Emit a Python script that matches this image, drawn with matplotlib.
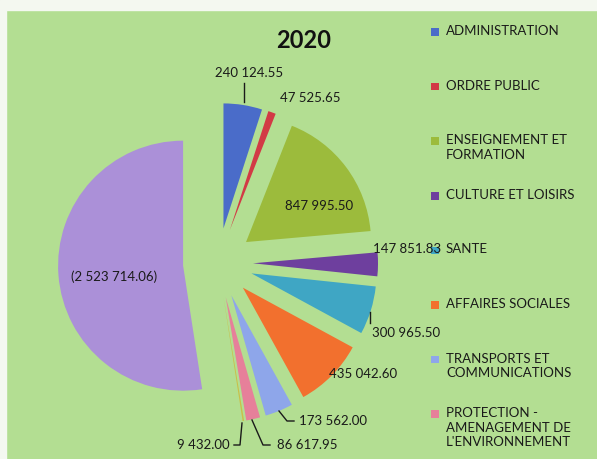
import numpy as np
import matplotlib.pyplot as plt
from matplotlib.patches import Rectangle

plt.rcParams['font.family'] = ['Lato', 'DejaVu Sans']

# > Data
title = '2020'
categories = ['ADMINISTRATION', 'ORDRE PUBLIC', 'ENSEIGNEMENT ET\nFORMATION',
              'CULTURE ET LOISIRS', 'SANTE', 'AFFAIRES SOCIALES',
              'TRANSPORTS ET\nCOMMUNICATIONS',
              'PROTECTION -\nAMENAGEMENT DE\nL\'ENVIRONNEMENT', '', '']
values = [240124.55, 47525.65, 847995.50, 147851.83, 300965.50,
          435042.60, 173562.00, 86617.95, 9432.00, -2523714.06]
colors = ['#4a6cc9', '#d23a45', '#9cbb3c', '#6e3f9e', '#3fa6c4',
          '#f2702e', '#8ea6ea', '#e6809a', '#c9c04a', '#ab90d8']
n_legend = 8


def fmt(v):
    s = f'{abs(v):,.2f}'.replace(',', ' ')
    return f'({s})' if v < 0 else s


W, H = 597, 459
fig = plt.figure(figsize=(W / 100, H / 100), dpi=100)
fig.patch.set_facecolor('#b3de92')
ax = fig.add_axes([0, 0, 1, 1])

# white margins of the photo
ax.add_patch(Rectangle((0, H - 10), W, 10, color='#f4f8f0', zorder=0))
ax.add_patch(Rectangle((0, 0), 6, H, color='#f4f8f0', zorder=0))

# > Pie (pixel coords, y up); explode is in data units here
r = 125
wedges, _ = ax.pie(np.abs(values), colors=colors, startangle=90,
                   counterclock=False, radius=r, center=(218, H - 263),
                   explode=[35] * len(values),
                   wedgeprops=dict(linewidth=0))
ax.set_xlim(0, W)
ax.set_ylim(0, H)
ax.set_aspect('auto')
ax.axis('off')

ax.text(304, H - 40, title, ha='center', va='center', fontsize=17,
        fontweight='bold', color='#111111')

# > Data labels (positions in px from top-left)
label_pos = [(249, 73), (310, 98), (319, 206), (407, 249), (406, 333),
             (363, 374), (333, 421), (307, 445), (203, 445), (114, 277)]
for v, (x, y) in zip(values, label_pos):
    ax.text(x, H - y, fmt(v), ha='center', va='center', fontsize=9.5,
            color='#1a1a1a')

leaders = [
    [(244, 83), (244, 102)],
    [(370, 312), (370, 323)],
    [(279, 411), (287, 421), (294, 421)],
    [(252, 420), (263, 445), (270, 445)],
    [(242, 423), (240, 445), (234, 445)],
]
for pts in leaders:
    xs, ys = zip(*pts)
    ax.plot(xs, [H - y for y in ys], color='#1a1a1a', lw=1)

# > Legend
for i in range(n_legend):
    y = 32 + i * 54.6
    ax.scatter([435], [H - y], marker='s', s=30, color=colors[i],
               edgecolor='none')
    ax.text(446, H - y + 7, categories[i], ha='left', va='top', fontsize=9.5,
            color='#1a1a1a', linespacing=1.25)

plt.savefig('out.png', dpi=100)
